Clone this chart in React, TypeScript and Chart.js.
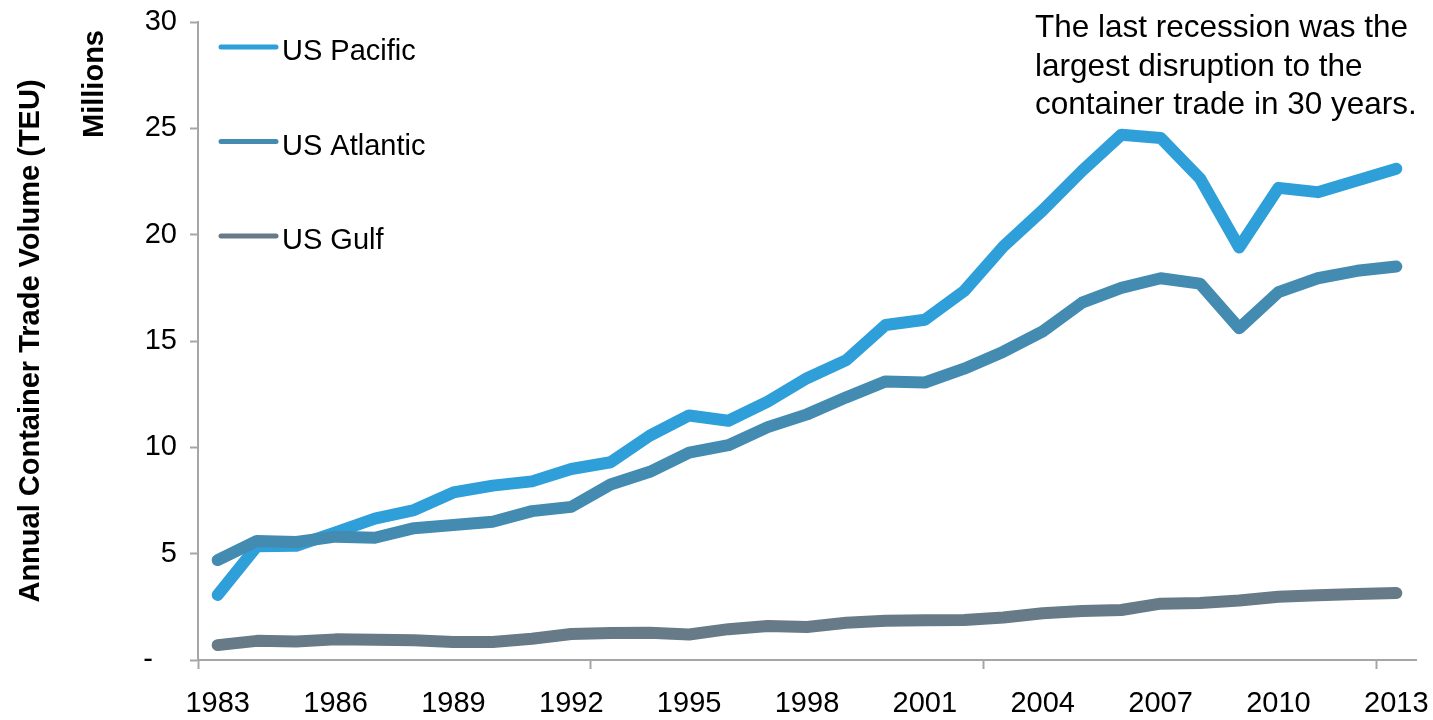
import React, { useEffect, useRef } from "react";
import { Chart, registerables } from "chart.js";

Chart.register(...registerables);

// Calendar years on the category axis
const years = [
  "1983", "1984", "1985", "1986", "1987", "1988", "1989", "1990", "1991", "1992",
  "1993", "1994", "1995", "1996", "1997", "1998", "1999", "2000", "2001", "2002",
  "2003", "2004", "2005", "2006", "2007", "2008", "2009", "2010", "2011", "2012",
  "2013",
];

// Annual container trade volume, millions of TEU
const usPacific = [
  3.06, 5.35, 5.37, 6.0, 6.65, 7.05, 7.88, 8.2, 8.4, 8.98,
  9.3, 10.55, 11.5, 11.25, 12.15, 13.25, 14.1, 15.75, 16.0, 17.35,
  19.45, 21.15, 23.0, 24.7, 24.55, 22.65, 19.4, 22.2, 22.0, 22.55,
  23.1,
];

const usAtlantic = [
  4.7, 5.6, 5.55, 5.8, 5.75, 6.2, 6.35, 6.5, 7.0, 7.2,
  8.25, 8.85, 9.75, 10.1, 10.95, 11.55, 12.35, 13.1, 13.05, 13.7,
  14.5, 15.45, 16.8, 17.5, 17.95, 17.7, 15.6, 17.3, 17.95, 18.3,
  18.5,
];

const usGulf = [
  0.7, 0.9, 0.87, 0.97, 0.95, 0.93, 0.85, 0.85, 1.0, 1.22,
  1.27, 1.28, 1.2, 1.45, 1.6, 1.55, 1.75, 1.85, 1.87, 1.88,
  2.0, 2.2, 2.3, 2.35, 2.65, 2.68, 2.8, 2.97, 3.05, 3.1,
  3.15,
];

const seriesNames = ["US Pacific", "US Atlantic", "US Gulf"];
const seriesColors = ["#2f9fd9", "#438bb1", "#677a87"];

const yAxisTitle = "Annual Container Trade Volume (TEU)";
const unitLabel = "Millions";
const noteLines = [
  "The last recession was the",
  "largest disruption to the",
  "container trade in 30 years.",
];

const FONT = '"Liberation Sans", Arial, Helvetica, sans-serif';
const AXIS_GRAY = "#a6a6a6";

// Draws the unit label, the stacked legend and the note text
const overlayPlugin = {
  id: "overlay",
  afterDraw(chart: any) {
    const { ctx, chartArea } = chart;
    ctx.save();
    ctx.fillStyle = "#000";

    // "Millions" beside the value axis
    ctx.save();
    ctx.translate(95, chartArea.top + 62);
    ctx.rotate(-Math.PI / 2);
    ctx.font = `bold 29px ${FONT}`;
    ctx.textAlign = "center";
    ctx.textBaseline = "middle";
    ctx.fillText(unitLabel, 0, 0);
    ctx.restore();

    // Legend: a short line and the series name, one under another
    ctx.font = `29px ${FONT}`;
    ctx.textAlign = "left";
    ctx.textBaseline = "alphabetic";
    chart.data.datasets.forEach((ds: any, i: number) => {
      const y = chartArea.top + 25 + i * 94.5;
      ctx.strokeStyle = ds.borderColor;
      ctx.lineWidth = 5;
      ctx.lineCap = "round";
      ctx.beginPath();
      ctx.moveTo(chartArea.left + 23, y);
      ctx.lineTo(chartArea.left + 78, y);
      ctx.stroke();
      ctx.fillText(ds.label, chartArea.left + 84, y + 13);
    });

    // Note in the upper right
    ctx.font = `31.5px ${FONT}`;
    noteLines.forEach((line, i) => {
      ctx.fillText(line, 1035, 37 + i * 38.5);
    });

    ctx.restore();
  },
};

export default function App() {
  const canvasRef = useRef<HTMLCanvasElement | null>(null);

  useEffect(() => {
    const canvas = canvasRef.current;
    if (!canvas) return;

    const lineStyle = {
      borderWidth: 12,
      pointRadius: 0,
      pointHoverRadius: 0,
      tension: 0,
      fill: false,
      borderCapStyle: "round" as const,
      borderJoinStyle: "round" as const,
    };

    const chart = new Chart(canvas, {
      type: "line",
      data: {
        labels: years,
        datasets: [
          { label: seriesNames[0], data: usPacific, borderColor: seriesColors[0], backgroundColor: seriesColors[0], order: 3, ...lineStyle },
          { label: seriesNames[1], data: usAtlantic, borderColor: seriesColors[1], backgroundColor: seriesColors[1], order: 2, ...lineStyle },
          { label: seriesNames[2], data: usGulf, borderColor: seriesColors[2], backgroundColor: seriesColors[2], order: 1, ...lineStyle },
        ],
      },
      options: {
        animation: false,
        responsive: false,
        maintainAspectRatio: false,
        layout: { padding: { top: 22, right: 17, bottom: 0, left: 0 } },
        plugins: {
          legend: { display: false },
          title: { display: false },
          tooltip: { enabled: false },
        },
        scales: {
          x: {
            type: "category",
            offset: true,
            grid: {
              offset: true,
              drawOnChartArea: false,
              drawTicks: true,
              tickLength: 9,
              tickWidth: 2,
              tickColor: (c: any) => (c.index % 10 === 0 ? AXIS_GRAY : "rgba(0,0,0,0)"),
            },
            border: { display: true, color: AXIS_GRAY, width: 2 },
            ticks: {
              autoSkip: false,
              maxRotation: 0,
              minRotation: 0,
              padding: 18,
              color: "#000",
              font: { family: FONT, size: 29 },
              callback: (_v: any, index: number) => (index % 3 === 0 ? years[index] : ""),
            },
            afterFit: (scale: any) => {
              scale.height = 60;
              scale.paddingLeft = 0;
              scale.paddingRight = 0;
            },
          },
          y: {
            min: 0,
            max: 30,
            grid: {
              drawOnChartArea: false,
              drawTicks: true,
              tickLength: 8,
              tickWidth: 2,
              tickColor: AXIS_GRAY,
            },
            border: { display: true, color: AXIS_GRAY, width: 2 },
            ticks: {
              stepSize: 5,
              padding: 13,
              color: "#000",
              font: { family: FONT, size: 29 },
              callback: (v: any) => (Number(v) === 0 ? "-   " : String(v)),
            },
            title: {
              display: true,
              text: yAxisTitle,
              color: "#000",
              padding: { top: 14, bottom: 0 },
              font: { family: FONT, size: 29, weight: "bold" },
            },
            afterFit: (scale: any) => {
              scale.width = 198;
              scale.paddingTop = 0;
              scale.paddingBottom = 0;
            },
          },
        },
      },
      plugins: [overlayPlugin],
    });

    return () => chart.destroy();
  }, []);

  return (
    <div style={{ position: "fixed", left: 0, top: 0, width: 1433, height: 720, background: "#fff" }}>
      <canvas ref={canvasRef} width={1433} height={720} />
    </div>
  );
}
